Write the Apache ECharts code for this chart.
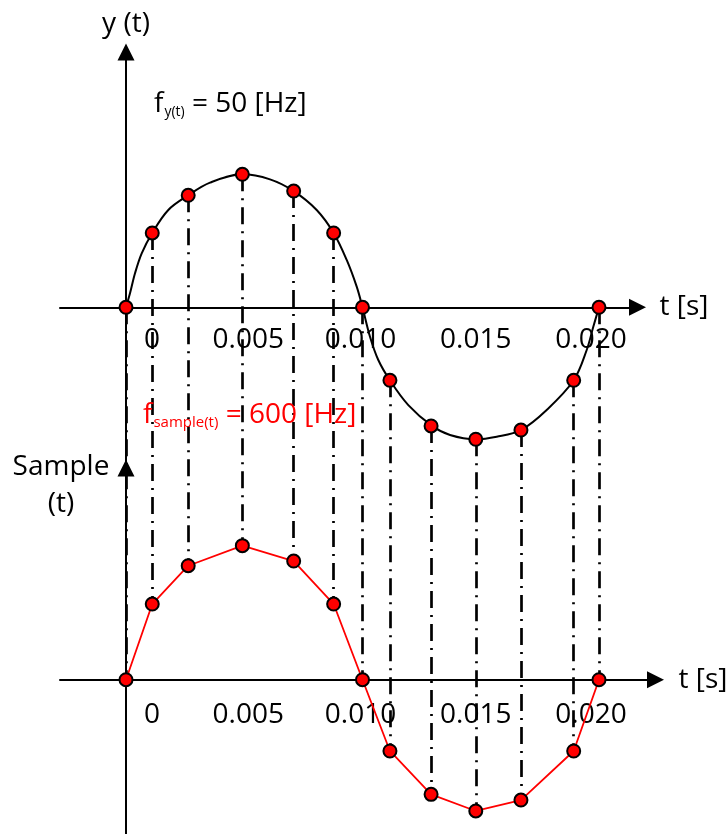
<!DOCTYPE html>
<html>
<head>
<meta charset="utf-8">
<script src="https://cdn.jsdelivr.net/npm/echarts@6/dist/echarts.min.js"></script>
<style>
  html, body { margin: 0; padding: 0; background: #fff; }
  #chart { width: 728px; height: 834px; }
</style>
</head>
<body>
<div id="chart"></div>
<script>
// Sample instants t (s) of the 600 Hz sampler over one 50 Hz period
const sampleT = [0, 0.00111, 0.00263, 0.00492, 0.00709, 0.00878, 0.0100,
                 0.01116, 0.01290, 0.01479, 0.01670, 0.01893, 0.0200];
// y(t) at the sample instants (normalised amplitude)
const signalY = [0, 0.559, 0.842, 1.0, 0.874, 0.559, 0,
                 -0.549, -0.892, -0.992, -0.923, -0.549, 0];
// Sample(t): held sample values
const sampleY = [0, 0.569, 0.857, 1.008, 0.892, 0.569, 0,
                 -0.536, -0.862, -0.987, -0.905, -0.536, 0];
// Points along the continuous y(t) curve
const curveT = [0, 0.000169, 0.000381, 0.000664, 0.00111, 0.001789, 0.00263, 0.003552,
                0.00492, 0.006089, 0.00709, 0.008063, 0.00878, 0.009332, 0.009755, 0.0100,
                0.010317, 0.010668, 0.01116, 0.011937, 0.01294, 0.0137, 0.01479, 0.015674,
                0.01670, 0.017788, 0.01893, 0.01948, 0.019759, 0.0200];
const curveY = [0, 0.105, 0.256, 0.406, 0.559, 0.732, 0.842, 0.937,
                1.0, 0.962, 0.874, 0.732, 0.559, 0.356, 0.155, 0,
                -0.221, -0.396, -0.549, -0.735, -0.892, -0.960, -0.992, -0.973,
                -0.923, -0.772, -0.549, -0.321, -0.146, 0];
// Time axis tick values and their labels
const tickValues = [0, 0.005, 0.010, 0.015, 0.020];
const tickLabels = ['0', '0.005', '0.010', '0.015', '0.020'];
// Horizontal nudges for the tick labels (px)
const tickNudge = [26, 4, -2, -5, -8];

// ---- layout ----
const W = 728, H = 834;
const X0 = 126;            // pixel column of t = 0
const PX_PER_S = 23650;    // horizontal scale
const UNIT = 133;          // pixels per unit of amplitude
const AXIS_LEFT = 60;
const TOP_ZERO = 307.3, TOP_ARROW = 52, TOP_XEND = 637.5;
const BOT_ZERO = 679.7, BOT_ARROW = 468, BOT_XEND = 655.5;
const toT = px => (px - X0) / PX_PER_S;
// bottom panel expressed in the top panel's units (used by the drop lines)
const BOT_OFFSET = -(BOT_ZERO - TOP_ZERO) / UNIT;

const FONT = 'Open Sans';
const fontSize = 28;

function arrowLine(onZero) {
  return {
    show: true,
    onZero: onZero,
    symbol: ['none', 'triangle'],
    symbolSize: [17, 17],
    lineStyle: { color: '#000', width: 2 }
  };
}

function timeLabels(margin) {
  const rich = {};
  tickLabels.forEach((s, i) => {
    const n = tickNudge[i];
    rich['l' + i] = {
      fontSize: fontSize, fontFamily: FONT, color: '#000',
      padding: n >= 0 ? [0, 0, 0, 2 * n] : [0, -2 * n, 0, 0]
    };
  });
  return {
    show: true,
    customValues: tickValues,
    margin: margin,
    formatter: function (v) {
      let idx = 0, best = Infinity;
      tickValues.forEach((tv, i) => { const d = Math.abs(tv - v); if (d < best) { best = d; idx = i; } });
      return '{l' + idx + '|' + tickLabels[idx] + '}';
    },
    rich: rich
  };
}

function timeAxis(gridIndex, endPx, zeroPx, gap, margin) {
  return {
    gridIndex: gridIndex, type: 'value', position: 'bottom',
    // the time axis sits on the zero line of its panel
    offset: -(H - zeroPx),
    min: toT(AXIS_LEFT), max: toT(endPx),
    axisLine: arrowLine(false), axisTick: { show: false }, splitLine: { show: false },
    axisLabel: timeLabels(margin),
    name: 't [s]', nameLocation: 'end', nameGap: gap,
    nameTextStyle: { fontSize: fontSize, fontFamily: FONT, color: '#000', verticalAlign: 'middle', align: 'left', padding: [4, 0, 0, 0] }
  };
}

const chart = echarts.init(document.getElementById('chart'), null, { renderer: 'canvas' });

const dropLines = sampleT.map((t, i) => ({
  coords: [[t, signalY[i]], [t, sampleY[i] + BOT_OFFSET]]
}));

const marker = { color: '#ff0000', borderColor: '#000', borderWidth: 2, opacity: 1 };

const option = {
  animation: false,
  backgroundColor: '#fff',
  textStyle: { fontFamily: FONT },
  grid: [
    { left: AXIS_LEFT, right: W - TOP_XEND, top: TOP_ARROW, bottom: 0, outerBoundsMode: 'none', containLabel: false },
    { left: AXIS_LEFT, right: W - BOT_XEND, top: BOT_ARROW, bottom: 0, outerBoundsMode: 'none', containLabel: false }
  ],
  xAxis: [
    timeAxis(0, TOP_XEND, TOP_ZERO, 22, 19),
    timeAxis(1, BOT_XEND, BOT_ZERO, 23, 21)
  ],
  yAxis: [
    {
      gridIndex: 0, type: 'value',
      max: (TOP_ZERO - TOP_ARROW) / UNIT, min: -(H - TOP_ZERO) / UNIT,
      axisLine: arrowLine(true), axisTick: { show: false }, splitLine: { show: false },
      axisLabel: { show: false },
      name: 'y (t)', nameLocation: 'end', nameGap: 14,
      nameTextStyle: { fontSize: fontSize, fontFamily: FONT, color: '#000' }
    },
    {
      gridIndex: 1, type: 'value',
      max: (BOT_ZERO - BOT_ARROW) / UNIT, min: -(H - BOT_ZERO) / UNIT,
      axisLine: arrowLine(true), axisTick: { show: false }, splitLine: { show: false },
      axisLabel: { show: false }
    }
  ],
  series: [
    {
      name: 'drop lines',
      type: 'lines',
      coordinateSystem: 'cartesian2d',
      xAxisIndex: 0, yAxisIndex: 0,
      z: 1,
      silent: true,
      lineStyle: { color: '#000', width: 2.7, type: [17, 7, 2, 7], opacity: 1 },
      data: dropLines
    },
    {
      name: 'y(t)',
      type: 'line',
      xAxisIndex: 0, yAxisIndex: 0,
      z: 2,
      smooth: 0.35,
      showSymbol: false,
      lineStyle: { color: '#000', width: 2 },
      data: curveT.map((t, i) => [t, curveY[i]])
    },
    {
      name: 'y(t) samples',
      type: 'scatter',
      xAxisIndex: 0, yAxisIndex: 0,
      z: 3,
      symbol: 'circle', symbolSize: 13,
      itemStyle: marker,
      data: sampleT.map((t, i) => [t, signalY[i]])
    },
    {
      name: 'Sample(t)',
      type: 'line',
      xAxisIndex: 1, yAxisIndex: 1,
      z: 3,
      symbol: 'circle', symbolSize: 13, showSymbol: true,
      lineStyle: { color: '#ff0000', width: 1.8 },
      itemStyle: marker,
      data: sampleT.map((t, i) => [t, sampleY[i]])
    }
  ],
  graphic: [
    {
      type: 'text', left: 154, top: 90, z: 10,
      style: {
        text: '{f|f}{s|y(t)}{n| = 50 [Hz]}',
        rich: {
          f: { fontSize: fontSize, fontFamily: FONT, fill: '#000' },
          s: { fontSize: 14, fontFamily: FONT, fill: '#000', padding: [17, 0, 0, 1] },
          n: { fontSize: fontSize, fontFamily: FONT, fill: '#000' }
        }
      }
    },
    {
      type: 'text', left: 143, top: 401, z: 10,
      style: {
        text: '{f|f}{s|sample(t)}{n| = 600 [Hz]}',
        rich: {
          f: { fontSize: fontSize, fontFamily: FONT, fill: '#ff0000' },
          s: { fontSize: 15, fontFamily: FONT, fill: '#ff0000', padding: [16, 0, 0, 1] },
          n: { fontSize: fontSize, fontFamily: FONT, fill: '#ff0000' }
        }
      }
    },
    {
      type: 'text', x: 61, y: 486, z: 10,
      style: {
        text: 'Sample\n(t)',
        fontSize: fontSize, fontFamily: FONT, fill: '#000',
        align: 'center', verticalAlign: 'middle', lineHeight: 37
      }
    }
  ]
};

chart.setOption(option);
</script>
</body>
</html>
